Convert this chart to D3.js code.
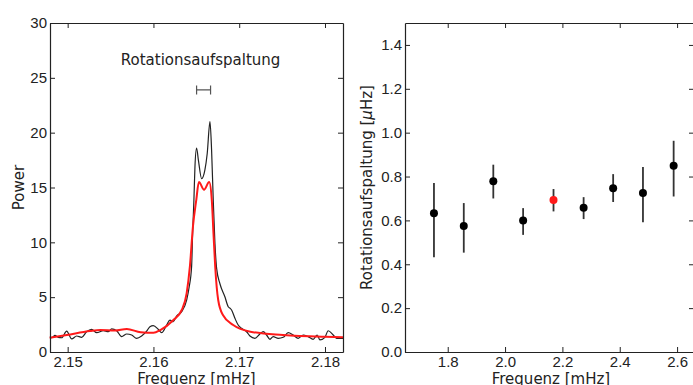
<!DOCTYPE html>
<html>
<head>
<meta charset="utf-8">
<script src="https://cdn.jsdelivr.net/npm/d3@7"></script>
<style>
  body { margin: 0; background: #fff; }
  svg { display: block; font-family: "DejaVu Sans", sans-serif; }
  .axis text { fill: #222; font-size: 15px; }
  .axis path, .axis line { stroke: #222; }
</style>
</head>
<body>
<svg id="chart" width="693" height="385"></svg>
<script>
// Left panel: power spectrum (frequency in mHz, power)
const specFreq = [2.14794, 2.14814, 2.14852, 2.1489, 2.1493, 2.14988, 2.15047, 2.15105, 2.15163, 2.15221,
  2.1528, 2.15338, 2.15415, 2.15473, 2.15513, 2.15571, 2.15629, 2.15688, 2.15746, 2.15804,
  2.15862, 2.15921, 2.15959, 2.15998, 2.16056, 2.16096, 2.16154, 2.16192, 2.16231, 2.1627,
  2.16329, 2.16387, 2.16417, 2.16445, 2.16457, 2.16472, 2.16484, 2.16503, 2.16524, 2.16562,
  2.166, 2.16627, 2.16659, 2.16678, 2.16697, 2.16717, 2.16737, 2.16776, 2.16833, 2.16872,
  2.16892, 2.16911, 2.1695, 2.16988, 2.17028, 2.17086, 2.17125, 2.17183, 2.17241, 2.1728,
  2.17319, 2.17358, 2.17396, 2.17455, 2.17513, 2.17571, 2.17629, 2.17688, 2.17746, 2.17804,
  2.17862, 2.17909, 2.17941, 2.17999, 2.18037, 2.18096, 2.18135, 2.18212];
const specPower = [1.4, 1.3, 1.52, 1.34, 1.3, 1.9, 1.19, 1.46, 1.34, 1.85,
  2.07, 1.76, 1.94, 1.85, 2.1, 1.94, 1.4, 1.64, 1.55, 1.25,
  1.46, 1.9, 2.3, 2.4, 2.07, 1.76, 2.46, 2.9, 2.76, 3.28,
  3.67, 4.74, 5.95, 7.8, 10.8, 13.9, 16.9, 18.6, 17.5, 15.8,
  16.6, 18.1, 21.0, 18.4, 13.9, 9.9, 7.6, 6.2, 5.04, 4.13,
  4.0, 3.83, 3.07, 2.46, 2.16, 1.85, 1.46, 1.25, 1.64, 1.85,
  1.55, 1.16, 1.4, 1.25, 1.34, 1.76, 1.55, 1.25, 1.55, 1.4,
  1.16, 1.55, 1.1, 1.34, 1.94, 1.55, 1.25, 1.25];

// Left panel: fitted profile
const fitFreq = [2.1479, 2.1499, 2.1526, 2.1538, 2.1555, 2.1569, 2.1585, 2.16, 2.1608, 2.1623,
  2.1633, 2.16387, 2.16425, 2.1646, 2.165, 2.1653, 2.1659, 2.1665, 2.1668, 2.167,
  2.1672, 2.16755, 2.1681, 2.1693, 2.1713, 2.1751, 2.18, 2.1821];
const fitPower = [1.3, 1.55, 1.91, 2.0, 1.95, 2.1, 1.8, 1.75, 2.0, 2.9,
  3.83, 5.35, 7.8, 11.4, 13.9, 15.5, 14.8, 15.5, 13.9, 10.8,
  7.8, 4.74, 3.37, 2.46, 1.85, 1.55, 1.38, 1.34];

const splitFreqs = [2.16503, 2.16666];
const splitLabel = 'Rotationsaufspaltung';

// Right panel: rotational splitting vs frequency
const modeFreq = [1.752, 1.856, 1.959, 2.063, 2.169, 2.274, 2.377, 2.481, 2.588];
const splitting = [0.633, 0.574, 0.779, 0.600, 0.693, 0.658, 0.747, 0.725, 0.849];
const splitLow = [0.432, 0.453, 0.700, 0.534, 0.641, 0.606, 0.684, 0.592, 0.709];
const splitHigh = [0.770, 0.679, 0.854, 0.656, 0.743, 0.706, 0.811, 0.843, 0.963];
const highlightIndex = 4;

const leftXTicks = [2.15, 2.16, 2.17, 2.18];
const leftYTicks = [0, 5, 10, 15, 20, 25, 30];
const rightXTicks = [1.8, 2.0, 2.2, 2.4, 2.6];
const rightYTicks = [0.0, 0.2, 0.4, 0.6, 0.8, 1.0, 1.2, 1.4];

const svg = d3.select('#chart');
const tick = 5;
const labelSize = 15;

function frame(g, x, y, xTicks, yTicks, xFmt, yFmt) {
    const [x0, x1] = x.range();
    const [y0, y1] = y.range();
    g.append('g').attr('class', 'axis')
        .attr('transform', `translate(0,${y0})`)
        .call(d3.axisBottom(x).tickValues(xTicks).tickFormat(xFmt)
            .tickSizeInner(-tick).tickSizeOuter(0).tickPadding(4));
    g.append('g').attr('class', 'axis')
        .attr('transform', `translate(${x0},0)`)
        .call(d3.axisLeft(y).tickValues(yTicks).tickFormat(yFmt)
            .tickSizeInner(-tick).tickSizeOuter(0).tickPadding(3));
    g.append('g').attr('class', 'axis')
        .attr('transform', `translate(0,${y1})`)
        .call(d3.axisTop(x).tickValues(xTicks).tickFormat('')
            .tickSizeInner(-tick).tickSizeOuter(0));
    g.append('g').attr('class', 'axis')
        .attr('transform', `translate(${x1},0)`)
        .call(d3.axisRight(y).tickValues(yTicks).tickFormat('')
            .tickSizeInner(-tick).tickSizeOuter(0));
    g.selectAll('.axis path').attr('stroke-width', 1.2);
}

// ---- Left panel ----
const xL = d3.scaleLinear().domain([2.14794, 2.1821]).range([50, 343]);
const yL = d3.scaleLinear().domain([0, 30]).range([352, 23]);
const left = svg.append('g');

const lineL = d3.line().curve(d3.curveMonotoneX);
left.append('path')
    .attr('d', lineL(specFreq.map((f, i) => [xL(f), yL(specPower[i])])))
    .attr('fill', 'none').attr('stroke', '#222').attr('stroke-width', 1.2);
left.append('path')
    .attr('d', lineL(fitFreq.map((f, i) => [xL(f), yL(fitPower[i])])))
    .attr('fill', 'none').attr('stroke', '#ff1a1a').attr('stroke-width', 2);

// splitting bracket
const by = yL(23.9);
const bx0 = xL(splitFreqs[0]), bx1 = xL(splitFreqs[1]);
left.append('path')
    .attr('d', `M${bx0},${by - 4.5}V${by + 4.5}M${bx0},${by}H${bx1}M${bx1},${by - 4.5}V${by + 4.5}`)
    .attr('fill', 'none').attr('stroke', '#555').attr('stroke-width', 1.2);
left.append('text')
    .attr('x', (bx0 + bx1) / 2 - 3).attr('y', yL(26.2))
    .attr('text-anchor', 'middle').attr('font-size', labelSize).attr('fill', '#222')
    .text(splitLabel);

frame(left, xL, yL, leftXTicks, leftYTicks, d3.format('.2f'), d3.format('d'));

left.append('text')
    .attr('x', (50 + 343) / 2).attr('y', 383.5)
    .attr('text-anchor', 'middle').attr('font-size', labelSize).attr('fill', '#222')
    .text('Frequenz [mHz]');
left.append('text')
    .attr('transform', `translate(24,${(23 + 352) / 2}) rotate(-90)`)
    .attr('text-anchor', 'middle').attr('font-size', labelSize).attr('fill', '#222')
    .text('Power');

// ---- Right panel ----
const xR = d3.scaleLinear().domain([1.651, 2.659]).range([405, 694]);
const yR = d3.scaleLinear().domain([0, 1.5]).range([352, 23]);
const right = svg.append('g');

frame(right, xR, yR, rightXTicks, rightYTicks, d3.format('.1f'), d3.format('.1f'));

const pts = modeFreq.map((f, i) => ({ f, v: splitting[i], lo: splitLow[i], hi: splitHigh[i], i }));
right.selectAll('line.err').data(pts).enter().append('line')
    .attr('class', 'err')
    .attr('x1', d => xR(d.f)).attr('x2', d => xR(d.f))
    .attr('y1', d => yR(d.lo)).attr('y2', d => yR(d.hi))
    .attr('stroke', '#333').attr('stroke-width', 1.8);
right.selectAll('circle').data(pts).enter().append('circle')
    .attr('cx', d => xR(d.f)).attr('cy', d => yR(d.v)).attr('r', 4)
    .attr('fill', d => d.i === highlightIndex ? '#ff1a1a' : '#000');

right.append('text')
    .attr('x', 551).attr('y', 383.5)
    .attr('text-anchor', 'middle').attr('font-size', labelSize).attr('fill', '#222')
    .text('Frequenz [mHz]');
const yl = right.append('text')
    .attr('transform', `translate(372,${(23 + 352) / 2}) rotate(-90)`)
    .attr('text-anchor', 'middle').attr('font-size', labelSize).attr('fill', '#222');
yl.append('tspan').text('Rotationsaufspaltung [');
yl.append('tspan').attr('font-style', 'italic').text('μ');
yl.append('tspan').text('Hz]');
</script>
</body>
</html>
